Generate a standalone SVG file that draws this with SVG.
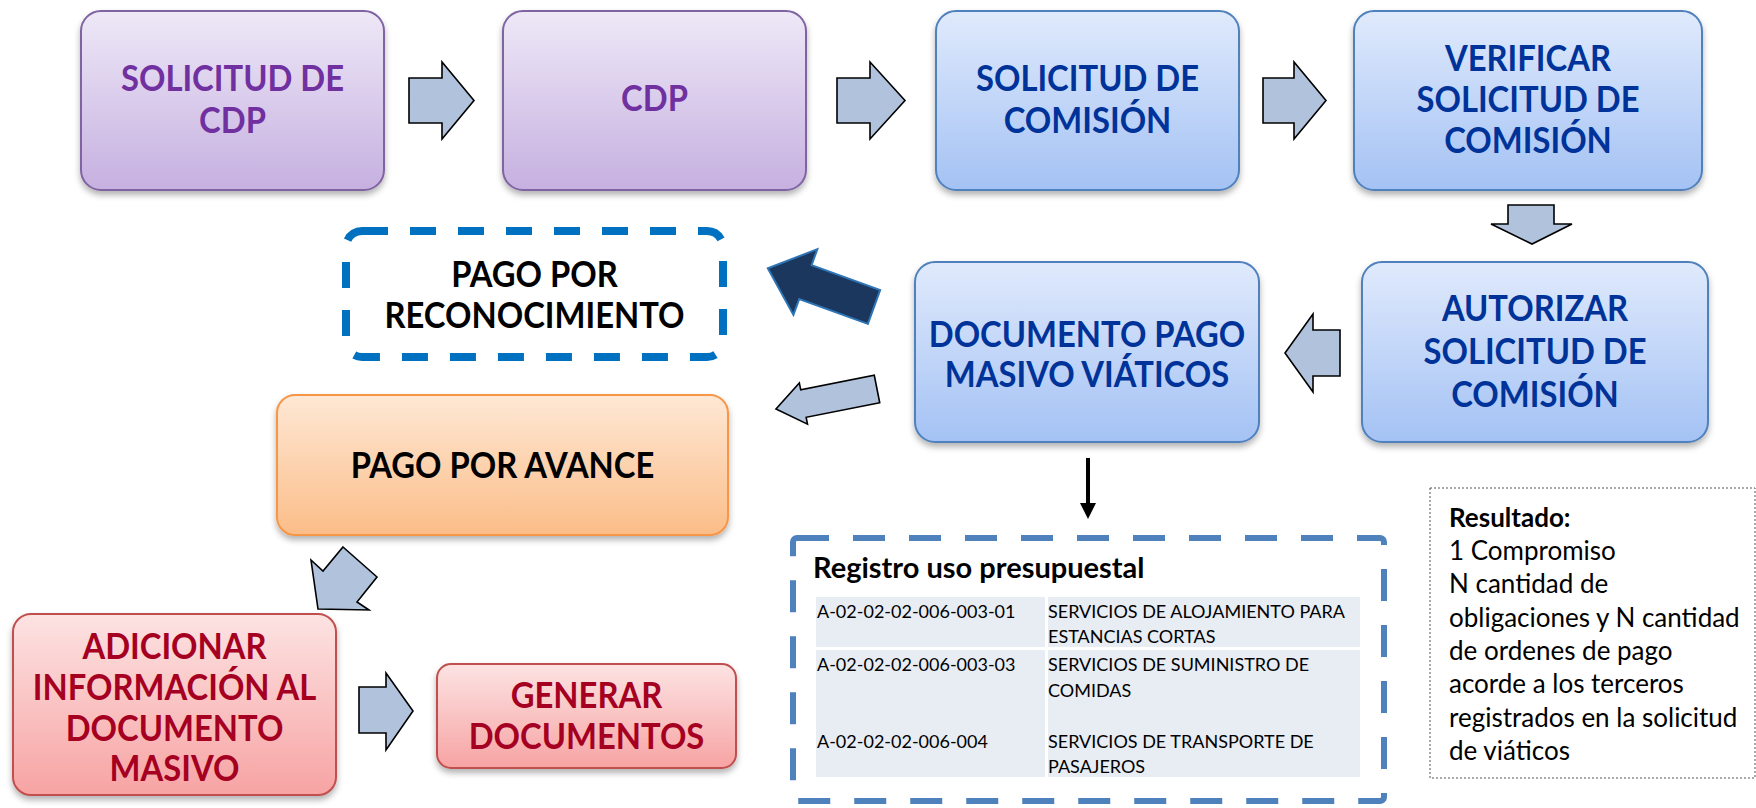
<svg xmlns="http://www.w3.org/2000/svg" width="1756" height="808" viewBox="0 0 1756 808">
<defs>
<linearGradient id="gPurple" x1="0" y1="0" x2="0" y2="1"><stop offset="0" stop-color="#eee8f7"/><stop offset="1" stop-color="#c6b0e0"/></linearGradient>
<linearGradient id="gBlue" x1="0" y1="0" x2="0" y2="1"><stop offset="0" stop-color="#e0eafc"/><stop offset="1" stop-color="#a4c2f4"/></linearGradient>
<linearGradient id="gOrange" x1="0" y1="0" x2="0" y2="1"><stop offset="0" stop-color="#fee8d5"/><stop offset="1" stop-color="#fbbd88"/></linearGradient>
<linearGradient id="gRed" x1="0" y1="0" x2="0" y2="1"><stop offset="0" stop-color="#fde3e3"/><stop offset="1" stop-color="#f7a3a3"/></linearGradient>
<filter id="shadow" x="-10%" y="-10%" width="120%" height="130%"><feDropShadow dx="0" dy="4" stdDeviation="3" flood-color="#000" flood-opacity="0.3"/></filter>
</defs>
<style>
.purple{fill:url(#gPurple);stroke:#8064a2;stroke-width:2;filter:url(#shadow)}
.blue{fill:url(#gBlue);stroke:#4f81bd;stroke-width:2;filter:url(#shadow)}
.orange{fill:url(#gOrange);stroke:#f79646;stroke-width:2;filter:url(#shadow)}
.red{fill:url(#gRed);stroke:#c0504d;stroke-width:2;filter:url(#shadow)}
.t{font-family:Lato,"Liberation Sans",sans-serif;font-weight:bold;font-size:36px;text-anchor:middle}
.tp{fill:#7030a0}.tb{fill:#003399}.tk{fill:#000}.tr{fill:#a50021}
.arr{fill:#b0c2dc;stroke:#000;stroke-width:1.6;stroke-linejoin:miter}
.cell{fill:#e8ecf3}
.tbl{font-family:Lato,"Liberation Sans",sans-serif;font-size:18px;fill:#000}
.res{font-family:Lato,"Liberation Sans",sans-serif;font-size:26px;fill:#000}
</style>

<g id="n-solicitud-cdp">
<rect class="purple" x="81" y="11" width="303" height="179" rx="20"/>
<g transform="translate(232.5,0) scale(0.91,1)">
<text class="t tp" x="0" y="91">SOLICITUD DE</text>
<text class="t tp" x="0" y="133">CDP</text>
</g>
</g>
<g id="n-cdp">
<rect class="purple" x="503" y="11" width="303" height="179" rx="20"/>
<g transform="translate(654.5,0) scale(0.91,1)">
<text class="t tp" x="0" y="111">CDP</text>
</g>
</g>
<g id="n-solicitud-comision">
<rect class="blue" x="936" y="11" width="303" height="179" rx="20"/>
<g transform="translate(1087.5,0) scale(0.91,1)">
<text class="t tb" x="0" y="91">SOLICITUD DE</text>
<text class="t tb" x="0" y="133">COMISIÓN</text>
</g>
</g>
<g id="n-verificar">
<rect class="blue" x="1354" y="11" width="348" height="179" rx="20"/>
<g transform="translate(1528,0) scale(0.91,1)">
<text class="t tb" x="0" y="71">VERIFICAR</text>
<text class="t tb" x="0" y="112">SOLICITUD DE</text>
<text class="t tb" x="0" y="153">COMISIÓN</text>
</g>
</g>
<g id="n-autorizar">
<rect class="blue" x="1362" y="262" width="346" height="180" rx="20"/>
<g transform="translate(1535,0) scale(0.91,1)">
<text class="t tb" x="0" y="321">AUTORIZAR</text>
<text class="t tb" x="0" y="364">SOLICITUD DE</text>
<text class="t tb" x="0" y="407">COMISIÓN</text>
</g>
</g>
<g id="n-documento">
<rect class="blue" x="915" y="262" width="344" height="180" rx="20"/>
<g transform="translate(1087,0) scale(0.91,1)">
<text class="t tb" x="0" y="347">DOCUMENTO PAGO</text>
<text class="t tb" x="0" y="387">MASIVO VIÁTICOS</text>
</g>
</g>
<g id="n-reconocimiento">
<rect x="346" y="231" width="377" height="126" rx="16" fill="#fff" stroke="#0070c0" stroke-width="8" stroke-dasharray="26 22"/>
<g transform="translate(534.5,0) scale(0.91,1)">
<text class="t tk" x="0" y="287">PAGO POR</text>
<text class="t tk" x="0" y="328">RECONOCIMIENTO</text>
</g>
</g>
<g id="n-avance">
<rect class="orange" x="277" y="395" width="451" height="140" rx="18"/>
<g transform="translate(502.5,0) scale(0.91,1)">
<text class="t tk" x="0" y="478">PAGO POR AVANCE</text>
</g>
</g>
<g id="n-adicionar">
<rect class="red" x="13" y="614" width="323" height="181" rx="18"/>
<g transform="translate(174.5,0) scale(0.91,1)">
<text class="t tr" x="0" y="659">ADICIONAR</text>
<text class="t tr" x="0" y="700">INFORMACIÓN AL</text>
<text class="t tr" x="0" y="741">DOCUMENTO</text>
<text class="t tr" x="0" y="781">MASIVO</text>
</g>
</g>
<g id="n-generar">
<rect class="red" x="437" y="664" width="299" height="104" rx="14"/>
<g transform="translate(586.5,0) scale(0.91,1)">
<text class="t tr" x="0" y="708">GENERAR</text>
<text class="t tr" x="0" y="749">DOCUMENTOS</text>
</g>
</g>

<g id="n-registro">
<rect x="793" y="538" width="591" height="263" rx="4" fill="none" stroke="#4f81bd" stroke-width="6" stroke-dasharray="32 24"/>
<text x="813" y="578" font-family="Lato,'Liberation Sans',sans-serif" font-weight="bold" font-size="29" fill="#000">Registro uso presupuestal</text>
<rect class="cell" x="816" y="597" width="229" height="50"/>
<rect class="cell" x="1048" y="597" width="312" height="50"/>
<rect class="cell" x="816" y="650" width="229" height="127"/>
<rect class="cell" x="1048" y="650" width="312" height="127"/>
<text class="tbl" x="817" y="618">A-02-02-02-006-003-01</text>
<text class="tbl" x="1048" y="618">SERVICIOS DE ALOJAMIENTO PARA</text>
<text class="tbl" x="1048" y="643">ESTANCIAS CORTAS</text>
<text class="tbl" x="817" y="671">A-02-02-02-006-003-03</text>
<text class="tbl" x="1048" y="671">SERVICIOS DE SUMINISTRO DE</text>
<text class="tbl" x="1048" y="697">COMIDAS</text>
<text class="tbl" x="817" y="748">A-02-02-02-006-004</text>
<text class="tbl" x="1048" y="748">SERVICIOS DE TRANSPORTE DE</text>
<text class="tbl" x="1048" y="773">PASAJEROS</text>
</g>

<g id="n-resultado">
<rect x="1430" y="488" width="325" height="290" fill="none" stroke="#555" stroke-width="1" stroke-dasharray="2 2"/>
<text class="res" x="1449" y="527" font-weight="bold">Resultado:</text>
<text class="res" x="1449" y="560">1 Compromiso</text>
<text class="res" x="1449" y="593">N cantidad de</text>
<text class="res" x="1449" y="627">obligaciones y N cantidad</text>
<text class="res" x="1449" y="660">de ordenes de pago</text>
<text class="res" x="1449" y="693">acorde a los terceros</text>
<text class="res" x="1449" y="727">registrados en la solicitud</text>
<text class="res" x="1449" y="760">de viáticos</text>
</g>

<g id="connectors">
<polygon class="arr" points="409,78 442,78 442,62 474,100.5 442,139 442,123 409,123"/>
<polygon class="arr" points="837,78 870,78 870,62 905,100.5 870,139 870,123 837,123"/>
<polygon class="arr" points="1263,78 1294,78 1294,62 1326,100.5 1294,139 1294,123 1263,123"/>
<polygon class="arr" points="1508,205 1554,205 1554,224 1572,224 1532,244 1491,224 1508,224"/>
<polygon class="arr" points="1340,330 1313,330 1313,314 1285,353 1313,392 1313,376 1340,376"/>
<polygon class="arr" points="359,687 386,687 386,673 413,711 386,750 386,733 359,733"/>
<polygon class="arr" points="343,547 377,577 357,602 369,610 318,609 311,560 323,571"/>
<polygon class="arr" transform="translate(877,389) rotate(168.8)" points="0,-14 75,-14 75,-21 103,0 75,21 75,14 0,14"/>
<polygon transform="translate(874,307) rotate(200)" points="0,-18 73,-18 73,-35 113,0 73,35 73,18 0,18" fill="#1b375e" stroke="#2e75b6" stroke-width="2"/>
<line x1="1088" y1="458" x2="1088" y2="505" stroke="#000" stroke-width="4"/>
<polygon points="1080,503 1096,503 1088,519" fill="#000"/>
</g>
</svg>
